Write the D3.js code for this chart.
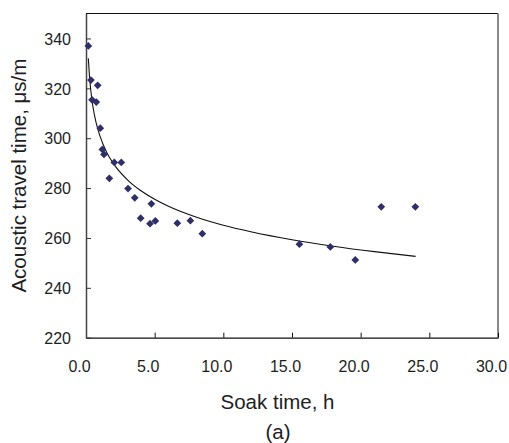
<!DOCTYPE html>
<html>
<head>
<meta charset="utf-8">
<script src="https://cdn.jsdelivr.net/npm/d3@7"></script>
<style>
  html, body { margin: 0; padding: 0; background: #fff; }
  svg { display: block; }
</style>
</head>
<body>
<svg id="chart" width="509" height="443"></svg>
<script>
// Measured data points (soak time h, acoustic travel time µs/m)
const soakTime = [0.17, 0.36, 0.85, 0.44, 0.75, 1.04, 1.19, 1.31, 2.06, 2.57, 1.70, 3.06, 3.55,
                  4.76, 3.98, 4.66, 5.05, 6.65, 7.60, 8.47, 15.54, 17.79, 19.61, 21.5, 23.98];
const travelTime = [337.0, 323.3, 321.2, 315.4, 314.5, 304.0, 295.5, 293.5, 290.3, 290.3, 283.9, 279.8, 276.1,
                    273.7, 267.9, 265.7, 266.8, 265.9, 266.9, 261.7, 257.5, 256.4, 251.2, 272.5, 272.5];
// Trend line
const trendX = [0.17, 0.25, 0.35, 0.5, 0.75, 1, 1.5, 2, 3, 4, 5, 6, 8, 10, 12, 15, 18, 21, 24];
const trendY = [332.0, 325.1, 319.1, 312.8, 305.9, 301.1, 294.4, 289.8, 283.4, 278.9, 275.5, 272.7,
                268.4, 265.1, 262.5, 259.3, 256.7, 254.5, 252.6];
const xTicks = [0, 5, 10, 15, 20, 25, 30];
const yTicks = [220, 240, 260, 280, 300, 320, 340];

const svg = d3.select("#chart");
const L = 86, R = 498, T = 13.5, B = 337.7;
const x = d3.scaleLinear().domain([0, 30]).range([L, R]);
const y = d3.scaleLinear().domain([220, 350]).range([B, T]);
const font = "Arial, 'Liberation Sans', sans-serif";
const textColor = "#1e1e1e";

// Frame: top black, right grey
svg.append("line").attr("x1", L).attr("x2", R).attr("y1", T).attr("y2", T)
  .attr("stroke", "#111").attr("stroke-width", 1.2);
svg.append("line").attr("x1", R).attr("x2", R).attr("y1", T).attr("y2", B)
  .attr("stroke", "#8a8a8a").attr("stroke-width", 2);

// X axis
const xAxis = d3.axisBottom(x).tickValues(xTicks).tickSizeInner(-5).tickSizeOuter(0)
  .tickFormat(d3.format(".1f"));
const gx = svg.append("g").attr("transform", `translate(0,${B})`).call(xAxis);
gx.select(".domain").attr("stroke", "#111").attr("stroke-width", 1.3);
gx.selectAll(".tick line").attr("stroke", "#111").attr("stroke-width", 1);
gx.selectAll(".tick text").attr("font-family", font).attr("font-size", 16)
  .attr("fill", textColor).attr("y", 0).attr("dy", 0)
  .attr("transform", "translate(-7,34)");

// Y axis
const yAxis = d3.axisLeft(y).tickValues(yTicks).tickSizeInner(-5).tickSizeOuter(0);
const gy = svg.append("g").attr("transform", `translate(${L},0)`).call(yAxis);
gy.select(".domain").attr("stroke", "#444").attr("stroke-width", 1.5);
gy.selectAll(".tick line").attr("stroke", "#333").attr("stroke-width", 1);
gy.selectAll(".tick text").attr("font-family", font).attr("font-size", 16)
  .attr("fill", textColor).attr("x", -15).attr("dy", "0.36em");

// Trend line
const trend = trendX.map((d, i) => [d, trendY[i]]);
svg.append("path").datum(trend)
  .attr("fill", "none").attr("stroke", "#111").attr("stroke-width", 1.1)
  .attr("d", d3.line().x(d => x(d[0])).y(d => y(d[1])).curve(d3.curveMonotoneX));

// Points (square diamond)
const diamond = {
  draw(ctx, size) {
    const r = Math.sqrt(size / 2);
    ctx.moveTo(0, -r); ctx.lineTo(r, 0); ctx.lineTo(0, r); ctx.lineTo(-r, 0); ctx.closePath();
  }
};
const pts = soakTime.map((d, i) => [d, travelTime[i]]);
svg.append("g").selectAll("path").data(pts).join("path")
  .attr("transform", d => `translate(${x(d[0])},${y(d[1])})`)
  .attr("d", d3.symbol().type(diamond).size(30))
  .attr("fill", "#2e2e68");

// Titles
svg.append("text").attr("x", 277.5).attr("y", 408.5).attr("text-anchor", "middle")
  .attr("font-family", font).attr("font-size", 20.5).attr("fill", textColor)
  .text("Soak time, h");
svg.append("text").attr("x", 278).attr("y", 439).attr("text-anchor", "middle")
  .attr("font-family", font).attr("font-size", 20.5).attr("fill", textColor)
  .text("(a)");
svg.append("text").attr("transform", `translate(26,${(T + B) / 2}) rotate(-90)`)
  .attr("text-anchor", "middle")
  .attr("font-family", font).attr("font-size", 20.5).attr("fill", textColor)
  .text("Acoustic travel time, μs/m");
</script>
</body>
</html>
